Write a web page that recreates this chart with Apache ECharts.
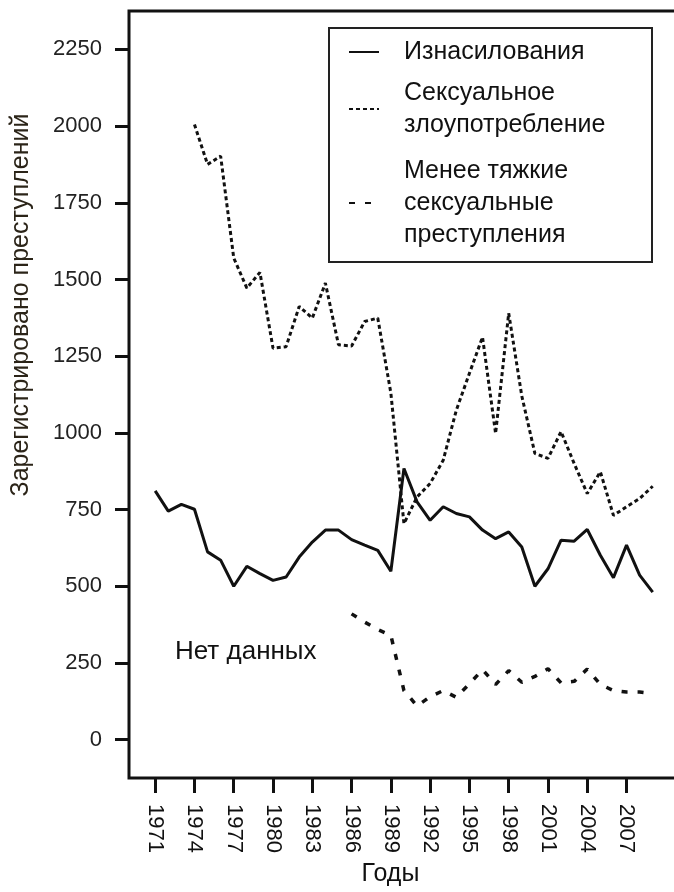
<!DOCTYPE html>
<html>
<head>
<meta charset="utf-8">
<script src="https://cdn.jsdelivr.net/npm/echarts@6/dist/echarts.min.js"></script>
<style>
  html, body { margin: 0; padding: 0; background: #fff; }
  #chart { width: 674px; height: 892px; }
</style>
</head>
<body>
<div id="chart"></div>
<script>
// years covered by the data
const years = [];
for (let y = 1971; y <= 2009; y++) years.push(y);

// Изнасилования, 1971–2009
const rapeValues = [811, 745, 767, 751, 612, 585, 500, 565, 541,
  519, 530, 595, 644, 683, 683, 652, 634, 617, 549,
  884, 775, 715, 759, 737, 726, 683, 655, 677, 628,
  500, 557, 650, 647, 685, 601, 528, 634, 536, 481];

// Сексуальное злоупотребление, 1974–2009
const abuseStart = 1974;
const abuseValues = [2005, 1875, 1902, 1570, 1472, 1523,
  1276, 1281, 1412, 1374, 1488, 1287, 1283, 1363, 1374, 1130,
  704, 791, 835, 911, 1074, 1194, 1312, 998, 1390, 1120,
  933, 917, 1004, 900, 802, 873, 731, 759, 786, 826];

// Менее тяжкие сексуальные преступления, 1986–2009
const lesserStart = 1986;
const lesserValues = [410, 383, 359, 340,
  160, 110, 140, 160, 138, 182, 228, 180, 225, 187,
  206, 231, 185, 190, 230, 180, 160, 155, 155, 150];

const xTicks = [1971, 1974, 1977, 1980, 1983, 1986, 1989, 1992, 1995, 1998, 2001, 2004, 2007];
const yTicks = [0, 250, 500, 750, 1000, 1250, 1500, 1750, 2000, 2250];

const seriesNames = ['Изнасилования', 'Сексуальное злоупотребление', 'Менее тяжкие сексуальные преступления'];
const legendLines = {
  'Изнасилования': 'Изнасилования',
  'Сексуальное злоупотребление': 'Сексуальное\nзлоупотребление',
  'Менее тяжкие сексуальные преступления': 'Менее тяжкие\nсексуальные\nпреступления'
};

const pairs = (start, values) => values.map((v, i) => [start + i, v]);

const FONT = '"Liberation Sans", Arial, sans-serif';
const INK = '#111';

const chart = echarts.init(document.getElementById('chart'));

chart.setOption({
  animation: false,
  backgroundColor: '#fff',
  textStyle: { fontFamily: FONT, color: INK },
  grid: {
    left: 129,
    top: 11,
    width: 563,          // right edge runs past the canvas, like the source
    bottom: 114,
    outerBoundsMode: 'none',
    containLabel: false,
    show: true,
    borderColor: INK,
    borderWidth: 3
  },
  xAxis: {
    type: 'value',
    min: 1969,
    max: 2012,
    name: 'Годы',
    nameLocation: 'middle',
    nameGap: 84,
    nameTextStyle: { fontSize: 25, color: INK, fontFamily: FONT, padding: [0, 40, 0, 0] },
    axisLine: { show: false, onZero: false },
    splitLine: { show: false },
    axisTick: {
      show: true,
      inside: false,
      length: 15,
      customValues: xTicks,
      lineStyle: { color: INK, width: 3 }
    },
    axisLabel: {
      customValues: xTicks,
      rotate: -90,
      margin: 26,
      fontSize: 22,
      color: INK,
      fontFamily: FONT,
      formatter: v => String(v)
    }
  },
  yAxis: {
    type: 'value',
    min: -125,
    max: 2375,
    name: 'Зарегистрировано преступлений',
    nameLocation: 'middle',
    nameGap: 95,
    nameTextStyle: { fontSize: 25, color: '#2b2418', fontFamily: FONT, padding: [0, 0, 0, 179] },
    axisLine: { show: false },
    splitLine: { show: false },
    axisTick: {
      show: true,
      inside: false,
      length: 14,
      customValues: yTicks,
      lineStyle: { color: INK, width: 3 }
    },
    axisLabel: {
      customValues: yTicks,
      margin: 27,
      fontSize: 22,
      color: '#222',
      fontFamily: FONT,
      formatter: v => String(v)
    }
  },
  legend: {
    orient: 'vertical',
    left: 348,
    top: 36,
    z: 20,
    padding: 0,
    itemGap: 9,
    itemWidth: 30,
    itemHeight: 14,
    itemStyle: { opacity: 0 },
    data: [
      { name: seriesNames[0] },
      { name: seriesNames[1] },
      { name: seriesNames[2], textStyle: { padding: [10, 0, 0, 20] } }
    ],
    formatter: name => legendLines[name],
    textStyle: {
      fontSize: 25,
      lineHeight: 32,
      color: INK,
      fontFamily: FONT,
      padding: [0, 0, 0, 20]
    }
  },
  graphic: [
    {
      type: 'rect',
      z: 1,
      shape: { x: 329, y: 28, width: 323, height: 234 },
      style: { fill: '#fff', stroke: '#222', lineWidth: 2 }
    },
    {
      type: 'text',
      left: 175,
      top: 639,
      style: { text: 'Нет данных', fontSize: 26, fontFamily: FONT, fill: INK }
    }
  ],
  series: [
    {
      name: seriesNames[0],
      type: 'line',
      symbol: 'none',
      data: pairs(years[0], rapeValues),
      lineStyle: { color: INK, width: 3 },
      itemStyle: { color: INK }
    },
    {
      name: seriesNames[1],
      type: 'line',
      symbol: 'none',
      data: pairs(abuseStart, abuseValues),
      lineStyle: { color: INK, width: 3, type: [4, 3] },
      itemStyle: { color: INK }
    },
    {
      name: seriesNames[2],
      type: 'line',
      symbol: 'none',
      data: pairs(lesserStart, lesserValues),
      lineStyle: { color: INK, width: 3.5, type: [6, 10] },
      itemStyle: { color: INK }
    }
  ]
});
</script>
</body>
</html>
